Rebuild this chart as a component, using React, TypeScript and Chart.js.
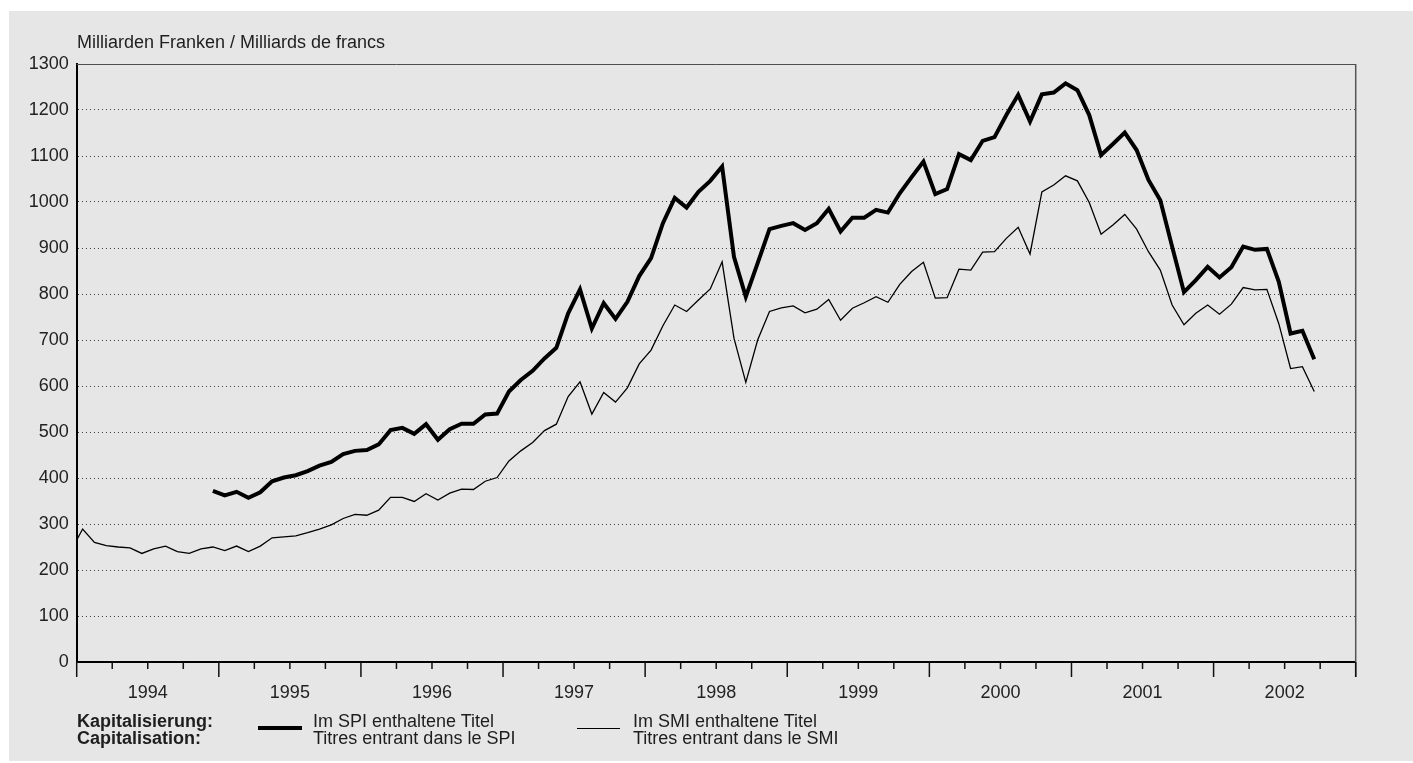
import React, { useEffect, useRef } from 'react';
import { Chart, registerables } from 'chart.js';

Chart.register(...registerables);

const FONT = '"Liberation Sans", Arial, Helvetica, sans-serif';

// Monthly capitalisation, billions of CHF (values read at mid-month)
const axisStartYear = 1994;
const smiStart = { year: 1993, month: 12 };
const spiStart = { year: 1994, month: 12 };

const smiValues = [
  241,
  289, 260, 253, 250, 248, 236, 246, 252, 240, 236, 246, 250,
  242, 252, 240, 252, 270, 272, 274, 281, 289, 298, 312, 321,
  319, 330, 358, 358, 349, 366, 352, 367, 376, 375, 393, 401,
  437, 459, 477, 503, 517, 577, 609, 539, 586, 565, 596, 648,
  678, 731, 776, 762, 787, 811, 870, 704, 608, 700, 762, 770,
  774, 759, 767, 788, 743, 769, 781, 794, 782, 821, 849, 869,
  791, 792, 854, 852, 891, 892, 921, 945, 887, 1022, 1037, 1057,
  1046, 999, 930, 950, 973, 941, 892, 852, 776, 733, 758, 776,
  756, 778, 814, 809, 810, 736, 638, 642, 588,
];

const spiValues = [
  372,
  362, 370, 357, 369, 393, 401, 406, 415, 427, 435, 452, 459,
  461, 473, 504, 509, 496, 517, 483, 506, 518, 518, 538, 540,
  588, 613, 633, 660, 683, 758, 810, 725, 780, 746, 783, 839,
  878, 954, 1009, 988, 1022, 1046, 1077, 881, 794, 867, 941, 948,
  954, 939, 954, 985, 936, 966, 966, 983, 977, 1019, 1054, 1088,
  1017, 1028, 1104, 1091, 1133, 1141, 1189, 1233, 1175, 1234, 1238, 1258,
  1243, 1189, 1102, 1126, 1151, 1113, 1048, 1004, 903, 804, 830, 859,
  836, 858, 903, 896, 898, 827, 714, 720, 658,
];

const yearLabels = ['1994', '1995', '1996', '1997', '1998', '1999', '2000', '2001', '2002'];
const yMin = 0;
const yMax = 1300;
const yStep = 100;

const axisTitle = 'Milliarden Franken / Milliards de francs';
const legendHeading = ['Kapitalisierung:', 'Capitalisation:'];
const spiLabel = ['Im SPI enthaltene Titel', 'Titres entrant dans le SPI'];
const smiLabel = ['Im SMI enthaltene Titel', 'Titres entrant dans le SMI'];

const toPoints = (start: { year: number; month: number }, values: number[]) =>
  values.map((v, i) => ({
    x: (start.year - axisStartYear) * 12 + (start.month - 1) + i + 0.5,
    y: v,
  }));

const monthsTotal = yearLabels.length * 12;

const framePlugin = {
  id: 'frame',
  afterDraw(chart: any) {
    const { ctx, chartArea: a, scales } = chart;
    const xs = scales.x;
    ctx.save();
    // top and right frame
    ctx.strokeStyle = '#4d4d4d';
    ctx.lineWidth = 1;
    ctx.beginPath();
    ctx.moveTo(a.left, a.top + 0.5);
    ctx.lineTo(a.right, a.top + 0.5);
    ctx.stroke();
    ctx.lineWidth = 1.5;
    ctx.strokeStyle = '#555';
    ctx.beginPath();
    ctx.moveTo(a.right, a.top);
    ctx.lineTo(a.right, a.bottom + 15);
    ctx.stroke();
    // quarterly / yearly ticks
    ctx.strokeStyle = '#111';
    ctx.lineWidth = 1.5;
    for (let m = 0; m <= monthsTotal; m += 3) {
      const x = xs.getPixelForValue(m);
      const len = m % 12 === 0 ? 15 : 7;
      ctx.beginPath();
      ctx.moveTo(x, a.bottom);
      ctx.lineTo(x, a.bottom + len);
      ctx.stroke();
    }
    // year labels
    ctx.fillStyle = '#222';
    ctx.font = `18px ${FONT}`;
    ctx.textAlign = 'center';
    ctx.textBaseline = 'middle';
    yearLabels.forEach((lbl, i) => {
      ctx.fillText(lbl, xs.getPixelForValue(i * 12 + 6), a.bottom + 31);
    });
    ctx.restore();
  },
};

export default function App() {
  const ref = useRef<HTMLCanvasElement>(null);

  useEffect(() => {
    const chart = new Chart(ref.current as HTMLCanvasElement, {
      type: 'line',
      data: {
        datasets: [
          {
            label: spiLabel[0],
            data: toPoints(spiStart, spiValues),
            borderColor: '#000',
            borderWidth: 4,
            pointRadius: 0,
            tension: 0,
            fill: false,
          },
          {
            label: smiLabel[0],
            data: toPoints(smiStart, smiValues),
            borderColor: '#000',
            borderWidth: 1.3,
            pointRadius: 0,
            tension: 0,
            fill: false,
          },
        ],
      },
      options: {
        animation: false,
        responsive: false,
        events: [],
        layout: { padding: { top: 53, right: 57.3, left: 0, bottom: 0 } },
        plugins: {
          legend: { display: false },
          tooltip: { enabled: false },
        },
        scales: {
          x: {
            type: 'linear',
            min: 0,
            max: monthsTotal,
            ticks: { display: false },
            grid: { display: false },
            border: { display: true, color: '#000', width: 2 },
            afterFit: (s: any) => {
              s.height = 99;
            },
          },
          y: {
            min: yMin,
            max: yMax,
            ticks: {
              stepSize: yStep,
              color: '#222',
              font: { family: FONT, size: 18 },
              padding: 8,
              callback: (v: any) => String(v),
            },
            grid: { color: '#444', lineWidth: 1, drawTicks: false },
            border: { display: true, color: '#000', width: 2, dash: [1, 3] },
            afterFit: (s: any) => {
              s.width = 67.7;
            },
          },
        },
      } as any,
      plugins: [framePlugin],
    });
    return () => chart.destroy();
  }, []);

  const textBlock: React.CSSProperties = {
    position: 'absolute',
    fontSize: 18,
    lineHeight: '16.5px',
    whiteSpace: 'nowrap',
  };

  return (
    <div
      style={{
        position: 'absolute',
        left: 9,
        top: 11,
        width: 1404,
        height: 750,
        background: '#e6e6e6',
        fontFamily: FONT,
        color: '#1e1e1e',
        overflow: 'hidden',
      }}
    >
      <canvas
        ref={ref}
        width={1404}
        height={750}
        style={{ position: 'absolute', left: 0, top: 0, width: 1404, height: 750 }}
      />
      <div style={{ ...textBlock, left: 68, top: 22, lineHeight: '18px' }}>{axisTitle}</div>
      <div style={{ ...textBlock, left: 68, top: 702, fontWeight: 'bold' }}>
        {legendHeading.map((t) => (
          <div key={t}>{t}</div>
        ))}
      </div>
      <div style={{ position: 'absolute', left: 249, top: 715, width: 44, height: 4, background: '#000' }} />
      <div style={{ ...textBlock, left: 304, top: 702 }}>
        {spiLabel.map((t) => (
          <div key={t}>{t}</div>
        ))}
      </div>
      <div style={{ position: 'absolute', left: 568, top: 716.5, width: 43, height: 1.3, background: '#000' }} />
      <div style={{ ...textBlock, left: 624, top: 702 }}>
        {smiLabel.map((t) => (
          <div key={t}>{t}</div>
        ))}
      </div>
    </div>
  );
}
